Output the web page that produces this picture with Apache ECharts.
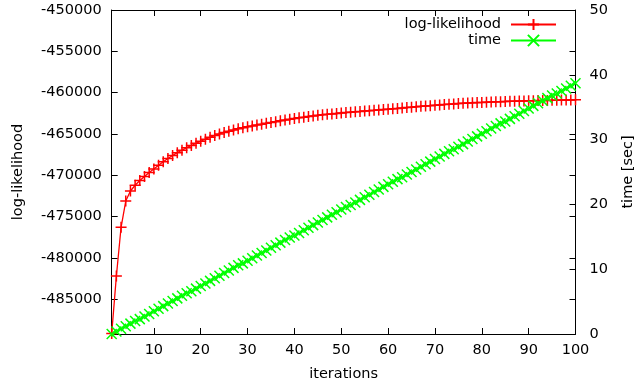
<!DOCTYPE html>
<html>
<head>
<meta charset="utf-8">
<script src="https://cdn.jsdelivr.net/npm/echarts@6/dist/echarts.min.js"></script>
<style>
  html, body { margin: 0; padding: 0; background: #fff; }
  #chart { width: 637px; height: 390px; }
</style>
</head>
<body>
<div id="chart"></div>
<script>
// log-likelihood per iteration
const logLikelihood = [
  -489150, -482180, -476290, -473110, -471900, -471200, -470630, -470140, -469670, -469240,
  -468790, -468370, -467970, -467610, -467260, -466960, -466660, -466390, -466130, -465880,
  -465630, -465400, -465180, -464990, -464820, -464660, -464520, -464380, -464260, -464140,
  -464020, -463910, -463810, -463710, -463610, -463510, -463410, -463310, -463220, -463130,
  -463050, -462970, -462890, -462810, -462740, -462680, -462620, -462570, -462510, -462460,
  -462410, -462360, -462310, -462270, -462220, -462180, -462140, -462090, -462050, -462010,
  -461960, -461910, -461860, -461810, -461760, -461710, -461660, -461610, -461570, -461520,
  -461480, -461440, -461400, -461360, -461320, -461290, -461260, -461230, -461200, -461180,
  -461150, -461130, -461110, -461090, -461070, -461050, -461030, -461020, -461000, -460985,
  -460970, -460960, -460950, -460940, -460925, -460910, -460900, -460890, -460880, -460865
];

// elapsed time [sec]
const timeSec = [
  0.0, 0.4, 0.8, 1.2, 1.6, 2.0, 2.3, 2.7, 3.1, 3.5,
  3.9, 4.3, 4.7, 5.1, 5.5, 5.9, 6.3, 6.6, 7.0, 7.4,
  7.8, 8.2, 8.6, 9.0, 9.4, 9.8, 10.2, 10.6, 10.9, 11.3,
  11.7, 12.1, 12.5, 12.9, 13.3, 13.7, 14.1, 14.5, 14.9, 15.2,
  15.6, 16.0, 16.4, 16.8, 17.2, 17.6, 18.0, 18.4, 18.8, 19.2,
  19.6, 19.9, 20.3, 20.7, 21.1, 21.5, 21.9, 22.3, 22.7, 23.1,
  23.5, 23.9, 24.2, 24.6, 25.0, 25.4, 25.8, 26.2, 26.6, 27.0,
  27.4, 27.8, 28.2, 28.5, 28.9, 29.3, 29.7, 30.1, 30.5, 30.9,
  31.3, 31.7, 32.1, 32.5, 32.8, 33.2, 33.6, 34.0, 34.4, 34.8,
  35.2, 35.6, 36.0, 36.4, 36.8, 37.1, 37.5, 37.9, 38.3, 38.7
];

const xTicks = [10, 20, 30, 40, 50, 60, 70, 80, 90, 100];
const yTicks = [-485000, -480000, -475000, -470000, -465000, -460000, -455000, -450000];

const iterations = logLikelihood.map((_, i) => i + 1);

const font = 'DejaVu Sans';
const fs = 14.5;
const black = '#000';

const chart = echarts.init(document.getElementById('chart'), null, { renderer: 'canvas' });

const plusSymbol = 'path://M0,5L10,5M5,0L5,10';
const crossSymbol = 'path://M0,0L10,10M10,0L0,10';

const legendText = { fontFamily: font, fontSize: fs, color: black, padding: [0, 5, 0, 0] };

const option = {
  animation: false,
  backgroundColor: '#fff',
  textStyle: { fontFamily: font },
  grid: { left: 111.7, right: 61.5, top: 10, bottom: 56, outerBoundsMode: 'none', containLabel: false },
  legend: [
    {
      data: ['log-likelihood'], right: 80, top: 17, align: 'right', padding: 0,
      itemWidth: 45, itemHeight: 14, textStyle: legendText
    },
    {
      data: ['time'], right: 80, top: 33, align: 'right', padding: 0,
      itemWidth: 45, itemHeight: 14, textStyle: legendText
    }
  ],
  xAxis: [
    {
      type: 'value', min: 1, max: 100, position: 'bottom',
      name: 'iterations', nameLocation: 'middle', nameGap: 33,
      nameTextStyle: { fontFamily: font, fontSize: fs, color: black },
      axisLine: { lineStyle: { color: black, width: 1 } },
      axisTick: { inside: true, length: 6, customValues: xTicks, lineStyle: { color: black } },
      axisLabel: { customValues: xTicks, fontFamily: font, fontSize: fs, color: black, margin: 9 },
      splitLine: { show: false }
    },
    {
      type: 'value', min: 1, max: 100, position: 'top',
      axisLine: { lineStyle: { color: black, width: 1 } },
      axisTick: { inside: true, length: 6, customValues: xTicks, lineStyle: { color: black } },
      axisLabel: { show: false },
      splitLine: { show: false }
    }
  ],
  yAxis: [
    {
      type: 'value', min: -489200, max: -450000, position: 'left',
      name: 'log-likelihood', nameLocation: 'middle', nameGap: 86, nameRotate: 90,
      nameTextStyle: { fontFamily: font, fontSize: fs, color: black },
      axisLine: { show: true, lineStyle: { color: black, width: 1 } },
      axisTick: { show: true, inside: true, length: 6, customValues: yTicks, lineStyle: { color: black } },
      axisLabel: {
        customValues: yTicks, fontFamily: font, fontSize: fs, color: black, margin: 10,
        formatter: v => String(v)
      },
      splitLine: { show: false }
    },
    {
      type: 'value', min: 0, max: 50, interval: 10, position: 'right',
      name: 'time [sec]', nameLocation: 'middle', nameGap: 45, nameRotate: 90,
      nameTextStyle: { fontFamily: font, fontSize: fs, color: black },
      axisLine: { show: true, lineStyle: { color: black, width: 1 } },
      axisTick: { show: true, inside: true, length: 6, lineStyle: { color: black } },
      axisLabel: { fontFamily: font, fontSize: fs, color: black, margin: 14 },
      splitLine: { show: false }
    },
    {
      // mirrored log-likelihood ticks on the right border
      type: 'value', min: -489200, max: -450000, position: 'right',
      axisLine: { show: false },
      axisTick: { show: true, inside: true, length: 6, customValues: yTicks, lineStyle: { color: black } },
      axisLabel: { show: false },
      splitLine: { show: false }
    }
  ],
  series: [
    {
      name: 'log-likelihood', type: 'line', xAxisIndex: 0, yAxisIndex: 0,
      data: iterations.map((it, i) => [it, logLikelihood[i]]),
      symbol: plusSymbol, symbolSize: 11, showAllSymbol: true,
      lineStyle: { color: '#ff0000', width: 1.3 },
      itemStyle: { color: '#ff0000', borderColor: '#ff0000', borderWidth: 1.5 }
    },
    {
      name: 'time', type: 'line', xAxisIndex: 0, yAxisIndex: 1,
      data: iterations.map((it, i) => [it, timeSec[i]]),
      symbol: crossSymbol, symbolSize: 10, showAllSymbol: true,
      lineStyle: { color: '#00ff00', width: 1.3 },
      itemStyle: { color: '#00ff00', borderColor: '#00ff00', borderWidth: 1.5 }
    }
  ]
};

chart.setOption(option);
</script>
</body>
</html>
